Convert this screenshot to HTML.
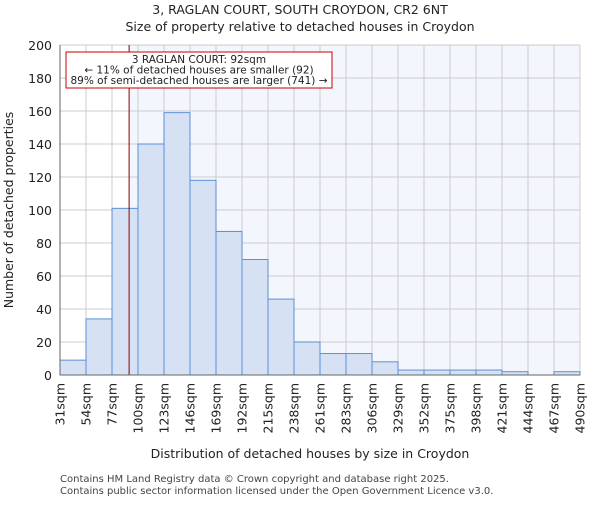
<!DOCTYPE html>
<html><head><meta charset="utf-8"><style>body{margin:0;background:#fff}text{font-family:"DejaVu Sans","Liberation Sans",sans-serif}</style></head>
<body>
<svg id="c" width="600" height="500" xmlns="http://www.w3.org/2000/svg"></svg>
<script>
const binLabels=["31sqm","54sqm","77sqm","100sqm","123sqm","146sqm","169sqm","192sqm","215sqm","238sqm","261sqm","283sqm","306sqm","329sqm","352sqm","375sqm","398sqm","421sqm","444sqm","467sqm","490sqm"];
const counts=[9,34,101,140,159,118,87,70,46,20,13,13,8,3,3,3,3,2,0,2];
const yTicks=[0,20,40,60,80,100,120,140,160,180,200];
const propertySize=92;
const binStart=31, binWidth=22.95;
const svg=document.getElementById('c');const NS='http://www.w3.org/2000/svg';
const L=60,R=580,T=45,B=375;
const bw=(R-L)/counts.length;
const y=v=>B-(v/200)*(B-T);
const xs=s=>L+(s-binStart)/binWidth*bw;
function el(t,a,txt){const e=document.createElementNS(NS,t);for(const k in a)e.setAttribute(k,a[k]);if(txt!==undefined)e.textContent=txt;svg.appendChild(e);return e;}
let e;
const px=xs(propertySize);
e=el('rect',{x:px,y:T,width:R-px,height:B-T,fill:'#f3f6fd'});

yTicks.forEach(v=>{e=el('line',{x1:L,x2:R,y1:y(v),y2:y(v),stroke:'#ccc','stroke-width':1});

e=el('text',{x:L-8,y:y(v)+5,'text-anchor':'end','font-size':12.5,fill:'#222'},v);
});
binLabels.forEach((lb,i)=>{const x=L+i*bw;e=el('line',{x1:x,x2:x,y1:T,y2:B,stroke:'#ccc','stroke-width':1});

e=el('text',{transform:`translate(${x+4.5},${B+8}) rotate(-90)`,'text-anchor':'end','font-size':12.5,fill:'#222'},lb);
});
counts.forEach((c,i)=>{e=el('rect',{x:L+i*bw,y:y(c),width:bw,height:B-y(c),fill:'#d6e2f4',stroke:'#5b8fd6','stroke-width':1});
});
e=el('line',{x1:px,x2:px,y1:T,y2:B,stroke:'#8b0000','stroke-width':1});

e=el('rect',{x:66,y:52,width:266,height:36,fill:'#fff',stroke:'#c00','stroke-width':1});

["3 RAGLAN COURT: 92sqm","← 11% of detached houses are smaller (92)","89% of semi-detached houses are larger (741) →"].forEach((t,i)=>{
e=el('text',{x:199,y:63+i*10.5,'text-anchor':'middle','font-size':10.5,fill:'#222'},t);
});
e=el('line',{x1:L,x2:L,y1:T,y2:B,stroke:'#666'});
e=el('line',{x1:L,x2:R,y1:B,y2:B,stroke:'#666'});
e=el('text',{x:300,y:14,'text-anchor':'middle','font-size':12.5,fill:'#222'},"3, RAGLAN COURT, SOUTH CROYDON, CR2 6NT");

e=el('text',{x:300,y:31,'text-anchor':'middle','font-size':12.5,fill:'#222'},"Size of property relative to detached houses in Croydon");

e=el('text',{transform:'translate(13,210) rotate(-90)','text-anchor':'middle','font-size':12.5,fill:'#222'},"Number of detached properties");

e=el('text',{x:310,y:458,'text-anchor':'middle','font-size':12.5,fill:'#222'},"Distribution of detached houses by size in Croydon");

e=el('text',{x:60,y:482,'font-size':10,fill:'#444'},"Contains HM Land Registry data © Crown copyright and database right 2025.");

e=el('text',{x:60,y:494,'font-size':10,fill:'#444'},"Contains public sector information licensed under the Open Government Licence v3.0.");

</script>
</body></html>
